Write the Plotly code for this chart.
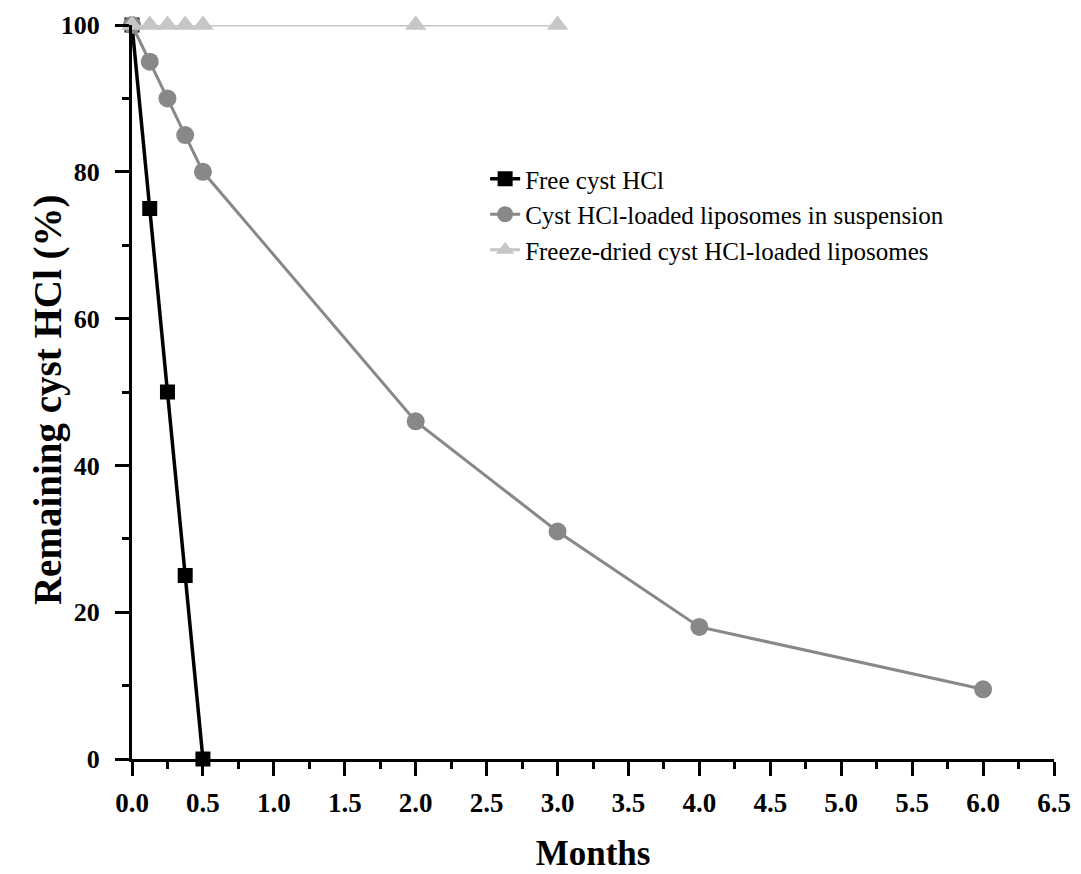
import plotly.graph_objects as go

free_x = [0, 0.125, 0.25, 0.375, 0.5]
free_y = [100, 75, 50, 25, 0]

susp_x = [0, 0.125, 0.25, 0.375, 0.5, 2, 3, 4, 6]
susp_y = [100, 95, 90, 85, 80, 46, 31, 18, 9.5]

fd_x = [0, 0.125, 0.25, 0.375, 0.5, 2, 3]
fd_y = [100, 100, 100, 100, 100, 100, 100]

names = ["Free cyst HCl",
         "Cyst HCl-loaded liposomes in suspension",
         "Freeze-dried cyst HCl-loaded liposomes"]

fig = go.Figure()
fig.add_trace(go.Scatter(x=free_x, y=free_y, name=names[0], mode="lines+markers",
                         line=dict(color="#000000", width=3.5),
                         marker=dict(symbol="square", size=15, color="#000000"),
                         cliponaxis=False, legendrank=1, legendgroup="a"))
fig.add_trace(go.Scatter(x=susp_x, y=susp_y, name=names[1], mode="lines+markers",
                         line=dict(color="#888888", width=3),
                         marker=dict(symbol="circle", size=18, color="#888888"),
                         cliponaxis=False, legendrank=2, legendgroup="b"))
fig.add_trace(go.Scatter(x=fd_x, y=fd_y, name=names[2], mode="lines+markers",
                         line=dict(color="#c6c6c6", width=3),
                         marker=dict(symbol="triangle-up", size=19, color="#c6c6c6"),
                         cliponaxis=False, legendrank=3, legendgroup="c"))

font = "Liberation Serif, Times New Roman, serif"
fig.update_layout(
    width=1081, height=874,
    margin=dict(l=124, r=35, t=17, b=123),
    paper_bgcolor="white", plot_bgcolor="white",
    font=dict(family=font, color="black"),
    legend=dict(x=0.383, y=0.8215, xanchor="left", yanchor="top",
                font=dict(size=25, family=font), bgcolor="rgba(0,0,0,0)",
                tracegroupgap=0),
    xaxis=dict(range=[0, 6.5], dtick=0.5, tick0=0, tickformat=".1f",
               showgrid=False, zeroline=False, showline=True, linecolor="black",
               linewidth=3, ticks="outside", ticklen=14, tickwidth=3,
               tickcolor="black", ticklabelstandoff=4, automargin=False,
               tickfont=dict(size=27, family=font, weight="bold"),
               minor=dict(dtick=0.25, ticks="outside", ticklen=7, tickwidth=2.5,
                          tickcolor="black"),
               title=dict(text="<b>Months</b>", font=dict(size=35, family=font),
                          standoff=24)),
    yaxis=dict(range=[0, 100], dtick=20, tick0=0,
               showgrid=False, zeroline=False, showline=True, linecolor="black",
               linewidth=3, ticks="outside", ticklen=14, tickwidth=3,
               tickcolor="black", ticklabelstandoff=10, automargin=False,
               tickfont=dict(size=26, family=font, weight="bold"),
               minor=dict(dtick=10, ticks="outside", ticklen=7, tickwidth=2.5,
                          tickcolor="black")),
    annotations=[dict(text="<b>Remaining cyst HCl (%)</b>", xref="paper", yref="paper",
                      x=-0.0911, y=0.489, xanchor="center", yanchor="middle",
                      textangle=-90, showarrow=False,
                      font=dict(size=39, family=font, color="black"))],
)
fig.write_html("out.html")
